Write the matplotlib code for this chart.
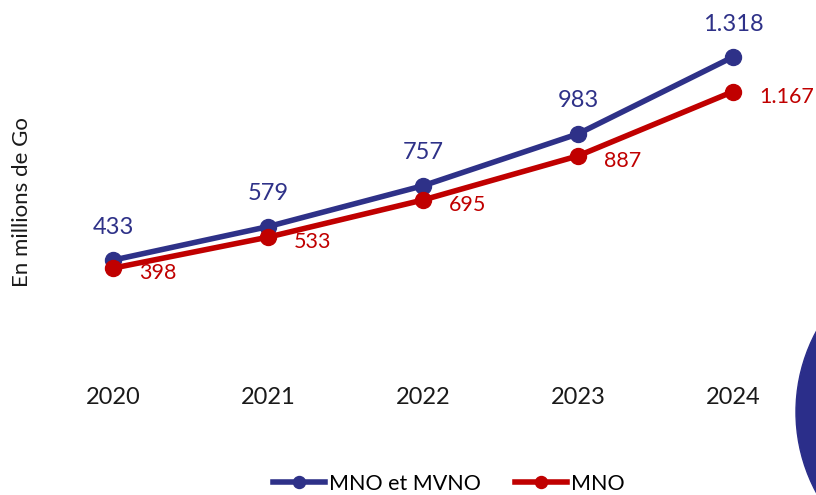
import matplotlib.pyplot as plt
from matplotlib.patches import Ellipse

# data
years = ["2020", "2021", "2022", "2023", "2024"]
mno_mvno = [433, 579, 757, 983, 1318]
mno = [398, 533, 695, 887, 1167]
mno_mvno_labels = ["433", "579", "757", "983", "1.318"]
mno_labels = ["398", "533", "695", "887", "1.167"]

blue = "#2E3188"
red = "#C00000"

plt.rcParams['font.family'] = ['Lato', 'DejaVu Sans']

fig = plt.figure(figsize=(8.16, 4.95), dpi=100)
ax = fig.add_axes([0.044, 1 - 375 / 495, 0.949, (375 - 10) / 495])

x = list(range(len(years)))
ax.plot(x, mno_mvno, color=blue, lw=4, marker='o', ms=11.5, label="MNO et MVNO", zorder=3)
ax.plot(x, mno, color=red, lw=4, marker='o', ms=11.5, label="MNO", zorder=4)

for i in x:
    ax.annotate(mno_mvno_labels[i], (i, mno_mvno[i]), textcoords='offset pixels',
                xytext=(0, 33), ha='center', va='center', color=blue, fontsize=17)
    ax.annotate(mno_labels[i], (i, mno[i]), textcoords='offset pixels',
                xytext=(26, -5), ha='left', va='center', color=red, fontsize=15.5)

ax.set_xlim(-0.5, 4.5)
ax.set_ylim(-68, 1523)
ax.set_xticks(x)
ax.set_xticklabels(years, fontsize=17, color="#1a1a1a")
ax.set_yticks([])
ax.tick_params(axis='x', length=0, pad=9)
for s in ax.spines.values():
    s.set_visible(False)

fig.text(0.027, 1 - 202 / 495, "En millions de Go", rotation=90, ha='center', va='center',
         fontsize=16, color="#1a1a1a")

fig.legend(loc='center', bbox_to_anchor=(0.55, 1 - 484 / 495), ncol=2, frameon=False,
           fontsize=15.5, handlelength=2.4, columnspacing=1.6, handletextpad=0.2,
           markerscale=0.75)

# decorative arc bottom right
arc = Ellipse((966 / 816, 1 - 412 / 495), 2 * 170 / 816, 2 * 170 / 495,
              transform=fig.transFigure, color="#2B2E8A", zorder=10)
fig.patches.append(arc)

plt.savefig('out.png', dpi=100)
